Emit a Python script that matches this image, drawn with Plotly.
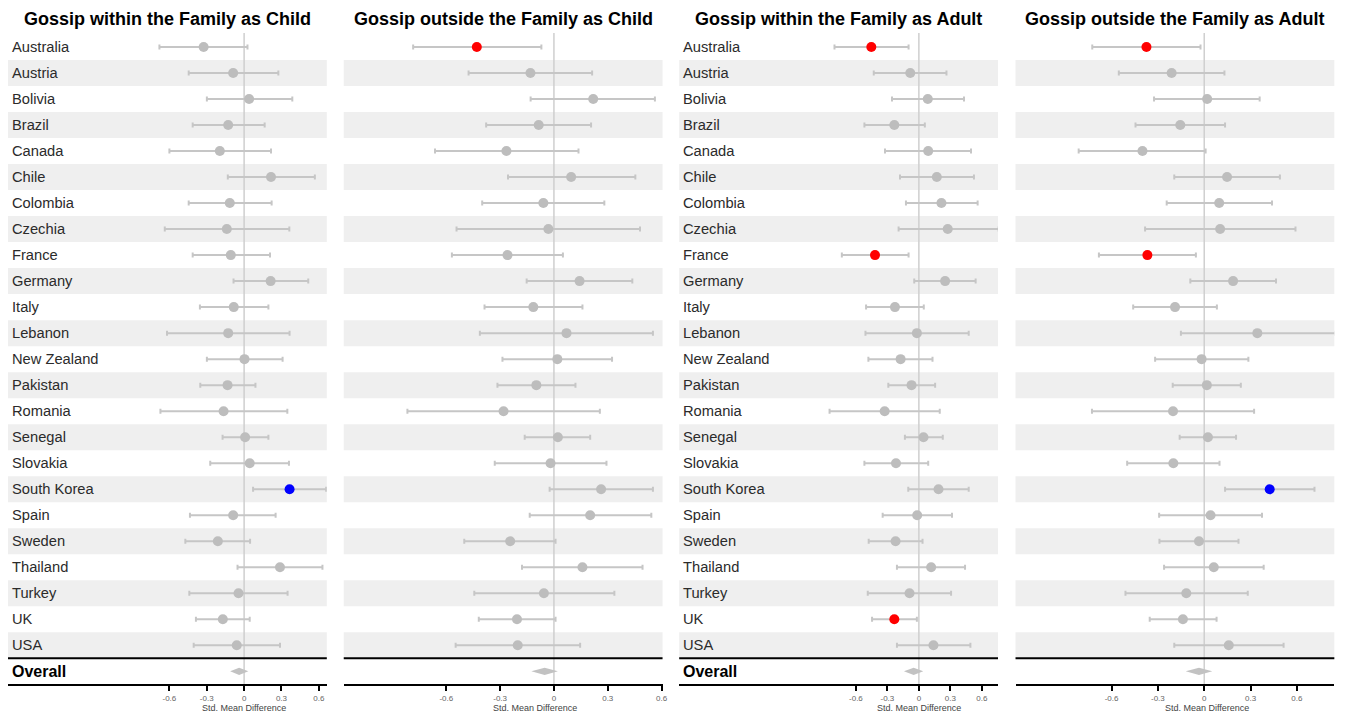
import plotly.graph_objects as go

# ---------------- data ----------------
countries = ["Australia", "Austria", "Bolivia", "Brazil", "Canada", "Chile", "Colombia",
             "Czechia", "France", "Germany", "Italy", "Lebanon", "New Zealand", "Pakistan",
             "Romania", "Senegal", "Slovakia", "South Korea", "Spain", "Sweden", "Thailand",
             "Turkey", "UK", "USA"]

titles = ["Gossip within the Family as Child", "Gossip outside the Family as Child",
          "Gossip within the Family as Adult", "Gossip outside the Family as Adult"]

tick_vals = [-0.6, -0.3, 0, 0.3, 0.6]
tick_text = ["-0.6", "-0.3", "0", "0.3", "0.6"]

# Gossip within the Family as Child
wc_est = [-0.325, -0.088, 0.040, -0.128, -0.195, 0.216, -0.115, -0.139, -0.107, 0.213, -0.083, -0.128,
          0.003, -0.133, -0.165, 0.008, 0.045, 0.365, -0.088, -0.211, 0.288, -0.045, -0.171, -0.059]
wc_lo = [-0.680, -0.445, -0.299, -0.413, -0.600, -0.131, -0.445, -0.637, -0.413, -0.085, -0.355, -0.619,
         -0.299, -0.352, -0.672, -0.173, -0.272, 0.072, -0.435, -0.472, -0.053, -0.440, -0.387, -0.405]
wc_hi = [0.027, 0.275, 0.387, 0.165, 0.216, 0.568, 0.221, 0.363, 0.208, 0.515, 0.195, 0.365,
         0.309, 0.091, 0.347, 0.195, 0.360, 0.659, 0.253, 0.048, 0.629, 0.349, 0.045, 0.288]

# Gossip outside the Family as Child
oc_est = [-0.430, -0.131, 0.219, -0.085, -0.265, 0.096, -0.059, -0.031, -0.259, 0.143, -0.115, 0.070,
          0.019, -0.098, -0.281, 0.022, -0.019, 0.263, 0.202, -0.244, 0.159, -0.056, -0.206, -0.202]
oc_lo = [-0.785, -0.476, -0.130, -0.378, -0.663, -0.256, -0.400, -0.543, -0.569, -0.152, -0.387, -0.413,
         -0.287, -0.315, -0.817, -0.163, -0.330, -0.024, -0.135, -0.500, -0.178, -0.444, -0.419, -0.548]
oc_hi = [-0.070, 0.213, 0.563, 0.207, 0.137, 0.454, 0.281, 0.480, 0.050, 0.437, 0.159, 0.552,
         0.324, 0.120, 0.256, 0.202, 0.293, 0.552, 0.543, 0.009, 0.494, 0.337, 0.009, 0.146]

# Gossip within the Family as Adult
wa_est = [-0.453, -0.082, 0.085, -0.234, 0.089, 0.171, 0.215, 0.275, -0.418, 0.250, -0.228, -0.019,
          -0.174, -0.070, -0.326, 0.044, -0.218, 0.187, -0.016, -0.222, 0.117, -0.089, -0.234, 0.139]
wa_lo = [-0.804, -0.430, -0.256, -0.519, -0.323, -0.180, -0.123, -0.193, -0.734, -0.044, -0.503, -0.509,
         -0.481, -0.291, -0.851, -0.133, -0.519, -0.101, -0.345, -0.478, -0.209, -0.487, -0.446, -0.209]
wa_hi = [-0.098, 0.263, 0.430, 0.057, 0.497, 0.525, 0.560, 0.760, -0.098, 0.541, 0.047, 0.475,
         0.130, 0.155, 0.199, 0.228, 0.089, 0.475, 0.316, 0.035, 0.440, 0.307, -0.019, 0.491]

# Gossip outside the Family as Adult
oa_est = [-0.374, -0.211, 0.019, -0.155, -0.400, 0.148, 0.097, 0.103, -0.368, 0.187, -0.189, 0.344,
          -0.017, 0.017, -0.202, 0.024, -0.200, 0.424, 0.041, -0.034, 0.062, -0.116, -0.138, 0.159]
oa_lo = [-0.725, -0.553, -0.325, -0.445, -0.813, -0.194, -0.243, -0.383, -0.682, -0.090, -0.460, -0.151,
         -0.318, -0.204, -0.727, -0.159, -0.499, 0.135, -0.292, -0.290, -0.260, -0.510, -0.353, -0.194]
oa_hi = [-0.024, 0.131, 0.359, 0.135, 0.009, 0.490, 0.439, 0.591, -0.054, 0.465, 0.082, 0.850,
         0.286, 0.237, 0.323, 0.206, 0.099, 0.714, 0.374, 0.222, 0.385, 0.282, 0.080, 0.514]

# Overall pooled estimates (diamonds)
overall_est = [-0.040, -0.052, -0.050, -0.034]
overall_lo = [-0.112, -0.126, -0.142, -0.120]
overall_hi = [0.034, 0.022, 0.042, 0.052]

panels = [(wc_est, wc_lo, wc_hi), (oc_est, oc_lo, oc_hi),
          (wa_est, wa_lo, wa_hi), (oa_est, oa_lo, oa_hi)]
show_labels = [True, False, True, False]

# ---------------- layout geometry ----------------
# the page body has an 8px margin, so the figure is offset by (8, 8)
OFF = 8
W, H = 1340, 706
panel_px = [(8, 328), (345, 665), (681.7, 1001.7), (1019.3, 1339.3)]  # page coordinates
x_ranges = [[-1.896, 0.664], [-1.172, 0.6056], [-2.284, 0.754], [-1.222, 0.8426]]
axis_title_x = [0.0, -0.107, 0.0, 0.015]


def fy(page_y):
    """page y pixel -> paper fraction"""
    return 1 - (page_y - OFF) / H


FONT = "Liberation Sans, Arial, sans-serif"
GRAY_PT = "#bdbdbd"
GRAY_BAR = "#c6c6c6"
BAND = "#efefef"
n = len(countries)
y_overall = n

fig = go.Figure()
shapes = []
annotations = []

for p, (est, lo, hi) in enumerate(panels):
    xa = "x" if p == 0 else f"x{p + 1}"
    xkey = "xaxis" if p == 0 else f"xaxis{p + 1}"
    ys = list(range(n))
    colors = []
    for l, h in zip(lo, hi):
        if h < 0:
            colors.append("#ff0000")
        elif l > 0:
            colors.append("#0000ff")
        else:
            colors.append(GRAY_PT)
    fig.add_trace(go.Scatter(
        x=est, y=ys, xaxis=xa, yaxis="y", mode="markers",
        marker=dict(size=10, color=colors, line=dict(width=0)),
        error_x=dict(type="data", symmetric=False,
                     array=[h - e for h, e in zip(hi, est)],
                     arrayminus=[e - l for e, l in zip(est, lo)],
                     color=GRAY_BAR, thickness=2, width=2.5),
        showlegend=False, hoverinfo="skip", cliponaxis=True))
    # overall diamond
    dh = 0.14
    fig.add_trace(go.Scatter(
        x=[overall_lo[p], overall_est[p], overall_hi[p], overall_est[p], overall_lo[p]],
        y=[y_overall, y_overall - dh, y_overall, y_overall + dh, y_overall],
        xaxis=xa, yaxis="y", mode="lines", fill="toself", fillcolor="#c2c2c2",
        line=dict(width=0, color="#c2c2c2"), showlegend=False, hoverinfo="skip"))

    x0, x1 = panel_px[p]
    fig.layout[xkey] = dict(
        domain=[(x0 - OFF) / W, (x1 - OFF) / W], range=x_ranges[p], anchor="y",
        showgrid=False, zeroline=False, showline=True, linecolor="black", linewidth=2,
        ticks="outside", ticklen=5, tickwidth=1.5, tickcolor="black",
        tickvals=tick_vals, ticktext=tick_text,
        tickfont=dict(size=8, color="#666666", family=FONT), fixedrange=True)

    dref = f"{xa} domain"
    # alternating bands
    for i in range(1, n, 2):
        shapes.append(dict(type="rect", xref=dref, yref="y", x0=0, x1=1,
                           y0=i - 0.5, y1=i + 0.5, fillcolor=BAND,
                           line=dict(width=0), layer="below"))
    # zero reference line
    shapes.append(dict(type="line", xref=xa, yref="y domain", x0=0, x1=0, y0=0, y1=1,
                       line=dict(color="#cfcfcf", width=1.5), layer="below"))
    # separator above Overall
    shapes.append(dict(type="line", xref=dref, yref="y", x0=0, x1=1,
                       y0=n - 0.5, y1=n - 0.5, line=dict(color="black", width=2)))

    # title
    annotations.append(dict(text=f"<b>{titles[p]}</b>", xref=dref, x=0.5, xanchor="center",
                            yref="paper", y=1, yanchor="top", borderpad=0, showarrow=False,
                            font=dict(size=18, color="black", family=FONT)))
    # axis title
    annotations.append(dict(text="Std. Mean Difference", xref=xa, x=axis_title_x[p],
                            xanchor="center", yref="paper", y=fy(707.5), yanchor="middle",
                            showarrow=False, font=dict(size=9, color="#444444", family=FONT)))
    if show_labels[p]:
        for i, c in enumerate(countries):
            annotations.append(dict(text=c, xref=dref, x=0.005, xanchor="left",
                                    yref="y", y=i, yanchor="middle", showarrow=False,
                                    font=dict(size=14.7, color="#2b2b2b", family=FONT)))
        annotations.append(dict(text="<b>Overall</b>", xref=dref, x=0.005, xanchor="left",
                                yref="y", y=y_overall, yanchor="middle", showarrow=False,
                                font=dict(size=16, color="black", family=FONT)))

fig.update_layout(
    width=W, height=H, margin=dict(l=0, r=0, t=0, b=0),
    paper_bgcolor="white", plot_bgcolor="white",
    yaxis=dict(domain=[fy(684.3), fy(33)], range=[n + 0.5, -0.538],
               visible=False, showgrid=False, zeroline=False, fixedrange=True),
    shapes=shapes, annotations=annotations, showlegend=False,
    font=dict(family=FONT),
)

fig.write_html("out.html")
